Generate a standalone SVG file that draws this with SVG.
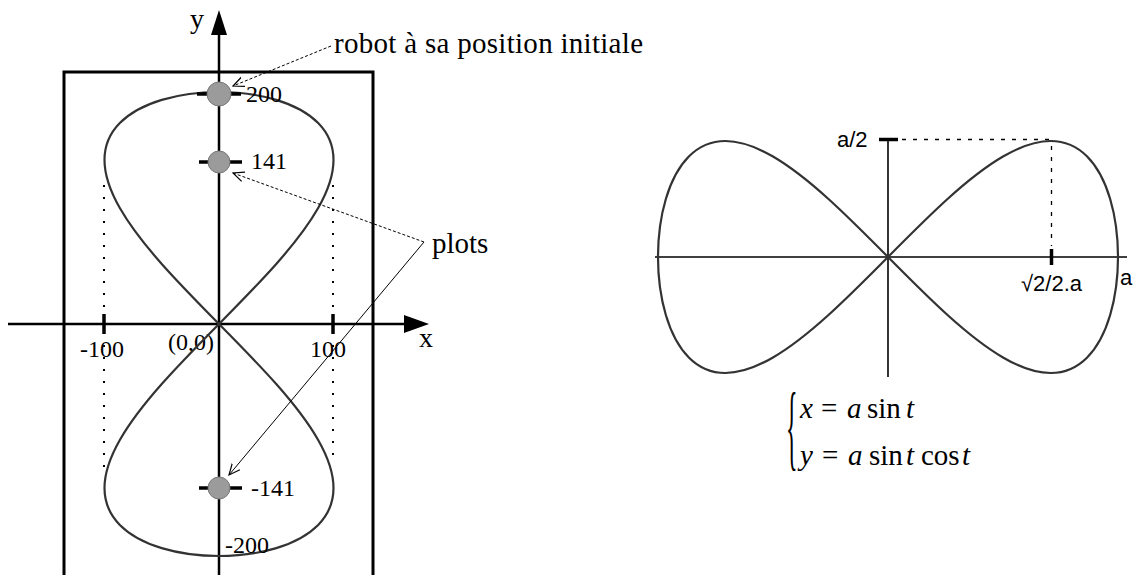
<svg xmlns="http://www.w3.org/2000/svg" width="1137" height="575" viewBox="0 0 1137 575">
<style>
.serif{font-family:"Liberation Serif","Times New Roman",serif;fill:#000}
.sans{font-family:"Liberation Sans",Arial,sans-serif;fill:#000}
.num{font-size:24px}
.lbl{font-size:29px}
.math{font-size:29px}
.it{font-style:italic}
.axis{stroke:#000;stroke-width:2.5;fill:none}
.axis2{stroke:#000;stroke-width:1.6;fill:none}
.tick{stroke:#000;stroke-width:3.5;fill:none}
.curve{stroke:#333;stroke-width:2.2;fill:none}
.dots{stroke:#000;stroke-width:2;stroke-dasharray:2 10;fill:none}
.dash{stroke:#000;stroke-width:1.3;stroke-dasharray:4 7;fill:none}
.leader{stroke:#000;stroke-width:1;fill:none;marker-end:url(#open)}
.plot{fill:#9b9b9b;stroke:#777;stroke-width:1}
</style>
<defs>
<marker id="open" viewBox="0 0 12 12" refX="11" refY="6" markerWidth="12" markerHeight="12" markerUnits="userSpaceOnUse" orient="auto">
<path d="M0,1 L11,6 L0,11" fill="none" stroke="#000" stroke-width="1.2"/>
</marker>
</defs>
<rect width="1137" height="575" fill="#fff"/>

<g id="left-frame">
<rect x="64" y="72" width="309" height="520" fill="none" stroke="#000" stroke-width="3"/>
</g>

<g id="left-axes">
<line class="axis" x1="8" y1="324" x2="406" y2="324"/>
<polygon points="429,324 404,315 404,333" fill="#000"/>
<line class="axis" x1="219" y1="33" x2="219" y2="575"/>
<polygon points="219,10 211,35 227,35" fill="#000"/>
<text class="serif" x="190" y="28" font-size="28">y</text>
<text class="serif" x="419" y="347" font-size="28">x</text>
<line class="tick" x1="104" y1="314" x2="104" y2="334"/>
<line class="tick" x1="333" y1="314" x2="333" y2="334"/>
<line class="dots" x1="104" y1="185" x2="104" y2="308"/>
<line class="dots" x1="104" y1="345" x2="104" y2="470"/>
<line class="dots" x1="333" y1="185" x2="333" y2="308"/>
<line class="dots" x1="333" y1="345" x2="333" y2="465"/>
<text class="serif num" x="80" y="357">-100</text>
<text class="serif num" x="168" y="350">(0,0)</text>
<text class="serif num" x="310" y="357">100</text>
</g>

<g id="left-curve">
<path class="curve" d="M219,324 C239,303.75 258.93,283.52 276.25,263.96 C293.57,244.4 308.16,225.54 318.16,208 C328.16,190.46 333.5,174.27 333.5,159.95 C333.5,145.63 328.16,133.22 318.16,123.09 C308.16,112.96 293.57,105.15 276.25,99.91 C258.93,94.67 239,92 219,92 C199,92 179.07,94.67 161.75,99.91 C144.43,105.15 129.84,112.96 119.84,123.09 C109.84,133.22 104.5,145.63 104.5,159.95 C104.5,174.27 109.84,190.46 119.84,208 C129.84,225.54 144.43,244.4 161.75,263.96 C179.07,283.52 199,303.75 219,324 C239,344.25 258.93,364.48 276.25,384.04 C293.57,403.6 308.16,422.46 318.16,440 C328.16,457.54 333.5,473.73 333.5,488.05 C333.5,502.37 328.16,514.78 318.16,524.91 C308.16,535.04 293.57,542.85 276.25,548.09 C258.93,553.33 239,556 219,556 C199,556 179.07,553.33 161.75,548.09 C144.43,542.85 129.84,535.04 119.84,524.91 C109.84,514.78 104.5,502.37 104.5,488.05 C104.5,473.73 109.84,457.54 119.84,440 C129.84,422.46 144.43,403.6 161.75,384.04 C179.07,364.48 199,344.25 219,324 Z"/>
</g>

<g id="plot-200">
<line class="tick" x1="197" y1="94" x2="241" y2="94"/>
<circle class="plot" cx="219" cy="94" r="12"/>
<text class="serif num" x="246" y="102">200</text>
</g>
<g id="plot-141">
<line class="tick" x1="199" y1="162" x2="242" y2="162"/>
<circle class="plot" cx="219" cy="162" r="11"/>
<text class="serif num" x="251" y="169">141</text>
</g>
<g id="plot-m141">
<line class="tick" x1="199" y1="488" x2="242" y2="488"/>
<circle class="plot" cx="219" cy="488" r="11"/>
<text class="serif num" x="251" y="496">-141</text>
</g>
<g id="mark-m200">
<text class="serif num" x="225" y="553">-200</text>
</g>

<g id="label-robot">
<text class="serif lbl" x="334" y="53" textLength="309">robot à sa position initiale</text>
</g>
<g id="label-plots">
<text class="serif lbl" x="432" y="253">plots</text>
</g>

<g id="connectors">
<line class="leader" x1="331" y1="46" x2="233" y2="86" stroke-dasharray="3 2"/>
<line class="leader" x1="424" y1="242" x2="233" y2="173" stroke-dasharray="3 2"/>
<line class="leader" x1="424" y1="242" x2="229" y2="475"/>
</g>

<g id="right-axes">
<line class="axis2" x1="655" y1="257" x2="1127" y2="257"/>
<line class="axis2" x1="888" y1="139" x2="888" y2="377"/>
<line class="tick" x1="879" y1="139.5" x2="898" y2="139.5"/>
<line class="tick" x1="1051.5" y1="249" x2="1051.5" y2="265"/>
<line class="dash" x1="902" y1="139.5" x2="1050" y2="139.5"/>
<line class="dash" x1="1051.5" y1="146" x2="1051.5" y2="246"/>
<text class="sans" x="837" y="147" font-size="22">a/2</text>
<text class="sans" x="1021" y="291" font-size="22">√2/2.a</text>
<text class="sans" x="1120" y="285" font-size="22">a</text>
</g>

<g id="right-curve">
<path class="curve" stroke="#000" d="M888,257 C908.07,236.75 928.13,216.54 947.52,199 C966.91,181.46 985.62,166.67 1003,156.54 C1020.38,146.41 1036.44,141 1050.63,141 C1064.82,141 1077.14,146.41 1087.18,156.54 C1097.22,166.67 1104.97,181.46 1110.16,199 C1115.35,216.54 1118,236.75 1118,257 C1118,277.25 1115.35,297.46 1110.16,315 C1104.97,332.54 1097.22,347.33 1087.18,357.46 C1077.14,367.59 1064.82,373 1050.63,373 C1036.44,373 1020.38,367.59 1003,357.46 C985.62,347.33 966.91,332.54 947.52,315 C928.13,297.46 908.07,277.25 888,257 C867.93,236.75 847.87,216.54 828.48,199 C809.09,181.46 790.38,166.67 773,156.54 C755.62,146.41 739.56,141 725.37,141 C711.18,141 698.86,146.41 688.82,156.54 C678.78,166.67 671.03,181.46 665.84,199 C660.65,216.54 658,236.75 658,257 C658,277.25 660.65,297.46 665.84,315 C671.03,332.54 678.78,347.33 688.82,357.46 C698.86,367.59 711.18,373 725.37,373 C739.56,373 755.62,367.59 773,357.46 C790.38,347.33 809.09,332.54 828.48,315 C847.87,297.46 867.93,277.25 888,257 Z"/>
</g>

<g id="equations">
<text class="serif" font-size="30" transform="translate(786,458) scale(0.8,3.2)">{</text>
<text class="serif math" y="418"><tspan class="it" x="800">x</tspan><tspan x="821">=</tspan><tspan class="it" x="847">a</tspan><tspan x="867">sin</tspan><tspan class="it" x="906">t</tspan></text>
<text class="serif math" y="465"><tspan class="it" x="800">y</tspan><tspan x="822">=</tspan><tspan class="it" x="848">a</tspan><tspan x="869">sin</tspan><tspan class="it" x="906">t</tspan><tspan x="921">cos</tspan><tspan class="it" x="962">t</tspan></text>
</g>
</svg>
